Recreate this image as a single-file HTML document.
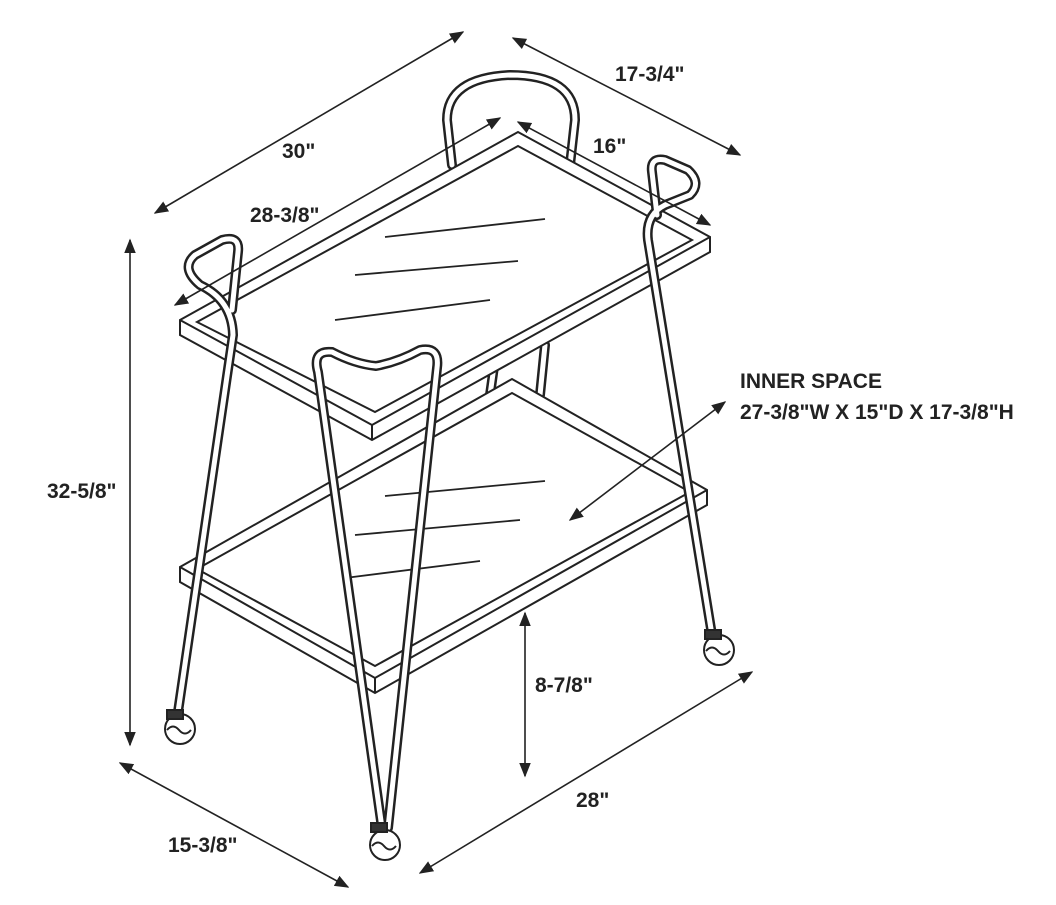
<!DOCTYPE html>
<html><head><meta charset="utf-8"><style>
html,body{margin:0;padding:0;background:#fff;}
svg{display:block;}
text{font-family:"Liberation Sans",Arial,sans-serif;font-weight:bold;font-size:21px;fill:#222;}
</style></head><body>
<svg width="1056" height="905" viewBox="0 0 1056 905" xmlns="http://www.w3.org/2000/svg">
<defs>
<marker id="a" viewBox="0 0 10 10" refX="9" refY="5" markerWidth="9" markerHeight="9" orient="auto-start-reverse"><path d="M0,1 L10,5 L0,9 z" fill="#222"/></marker>
</defs>
<!-- back arch (behind) -->
<g fill="none" stroke-linecap="round" stroke-linejoin="round">
<path d="M452 165 L447 120 Q447 78 510 75 Q575 75 575 120 L570 165" stroke="#222" stroke-width="10"/>
<path d="M452 165 L447 120 Q447 78 510 75 Q575 75 575 120 L570 165" stroke="#fff" stroke-width="5"/>
<path d="M490 395 L497 345 M540 395 L545 345" stroke="#222" stroke-width="10"/>
<path d="M490 395 L497 345 M540 395 L545 345" stroke="#fff" stroke-width="5"/>
</g>
<!-- bottom shelf -->
<g stroke="#222" stroke-width="2" fill="#fff" stroke-linejoin="miter">
<polygon points="180,567 512,379 707,490 707,505 375,693 180,582"/>
<polyline fill="none" points="180,567 375,678 707,490"/>
<line x1="375" y1="678" x2="375" y2="693"/>
<polygon points="197,569 512,393 690,492 375,666"/>
</g>
<!-- top shelf -->
<g stroke="#222" stroke-width="2" fill="#fff">
<polygon points="180,320 518,132 710,237 710,252 372,440 180,335"/>
<polyline fill="none" points="180,320 372,425 710,237"/>
<line x1="372" y1="425" x2="372" y2="440"/>
<polygon points="197,322 518,146 692,240 375,412"/>
</g>
<!-- glass lines -->
<g stroke="#222" stroke-width="1.8">
<line x1="385" y1="237" x2="545" y2="219"/>
<line x1="355" y1="275" x2="518" y2="261"/>
<line x1="335" y1="320" x2="490" y2="300"/>
<line x1="385" y1="496" x2="545" y2="481"/>
<line x1="355" y1="535" x2="520" y2="520"/>
<line x1="345" y1="578" x2="480" y2="561"/>
</g>
<!-- legs -->
<g fill="none" stroke-linecap="round" stroke-linejoin="round">
<g stroke="#222" stroke-width="10">
<path d="M232 310 L238 252 Q240 235 222 240 L195 255 Q180 268 200 285 Q232 300 233 335 L178 712"/>
<path d="M712 635 L648 240 Q645 215 665 205 L690 195 Q702 183 688 170 L665 160 Q650 157 652 172 L657 215"/>
<path d="M382 828 L318 372 Q312 350 332 352 Q355 364 376 366 Q398 362 420 350 Q440 346 437 368 L388 828"/>
</g>
<g stroke="#fff" stroke-width="5">
<path d="M232 310 L238 252 Q240 235 222 240 L195 255 Q180 268 200 285 Q232 300 233 335 L178 712"/>
<path d="M712 635 L648 240 Q645 215 665 205 L690 195 Q702 183 688 170 L665 160 Q650 157 652 172 L657 215"/>
<path d="M382 828 L318 372 Q312 350 332 352 Q355 364 376 366 Q398 362 420 350 Q440 346 437 368 L388 828"/>
</g>
</g>
<!-- wheels -->
<g stroke="#222" stroke-width="2" fill="#fff">
<circle cx="180" cy="729" r="15"/><rect x="167" y="710" width="16" height="9" fill="#333"/>
<path d="M167 730 q6 -7 12 0 q6 7 12 0" fill="none"/>
<circle cx="385" cy="845" r="15"/><rect x="371" y="823" width="16" height="9" fill="#333"/>
<path d="M372 846 q6 -7 12 0 q6 7 12 0" fill="none"/>
<circle cx="719" cy="650" r="15"/><rect x="705" y="630" width="16" height="9" fill="#333"/>
<path d="M706 651 q6 -7 12 0 q6 7 12 0" fill="none"/>
</g>
<g fill="none" stroke="#222" stroke-width="1.6">
<line x1="155" y1="213" x2="463" y2="32" marker-start="url(#a)" marker-end="url(#a)"/>
<line x1="513" y1="38" x2="740" y2="155" marker-start="url(#a)" marker-end="url(#a)"/>
<line x1="518" y1="122" x2="710" y2="225" marker-start="url(#a)" marker-end="url(#a)"/>
<line x1="500" y1="118" x2="175" y2="305" marker-start="url(#a)" marker-end="url(#a)"/>
<line x1="130" y1="240" x2="130" y2="745" marker-start="url(#a)" marker-end="url(#a)"/>
<line x1="725" y1="402" x2="570" y2="520" marker-start="url(#a)" marker-end="url(#a)"/>
<line x1="525" y1="613" x2="525" y2="776" marker-start="url(#a)" marker-end="url(#a)"/>
<line x1="420" y1="873" x2="752" y2="672" marker-start="url(#a)" marker-end="url(#a)"/>
<line x1="120" y1="763" x2="348" y2="887" marker-start="url(#a)" marker-end="url(#a)"/>
</g>
<!-- labels -->
<text x="282" y="158">30"</text>
<text x="615" y="81">17-3/4"</text>
<text x="593" y="153">16"</text>
<text x="250" y="222">28-3/8"</text>
<text x="47" y="498">32-5/8"</text>
<text x="740" y="388">INNER SPACE</text>
<text x="740" y="419">27-3/8"W X 15"D X 17-3/8"H</text>
<text x="535" y="692">8-7/8"</text>
<text x="576" y="807">28"</text>
<text x="168" y="852">15-3/8"</text>
</svg>
</body></html>
